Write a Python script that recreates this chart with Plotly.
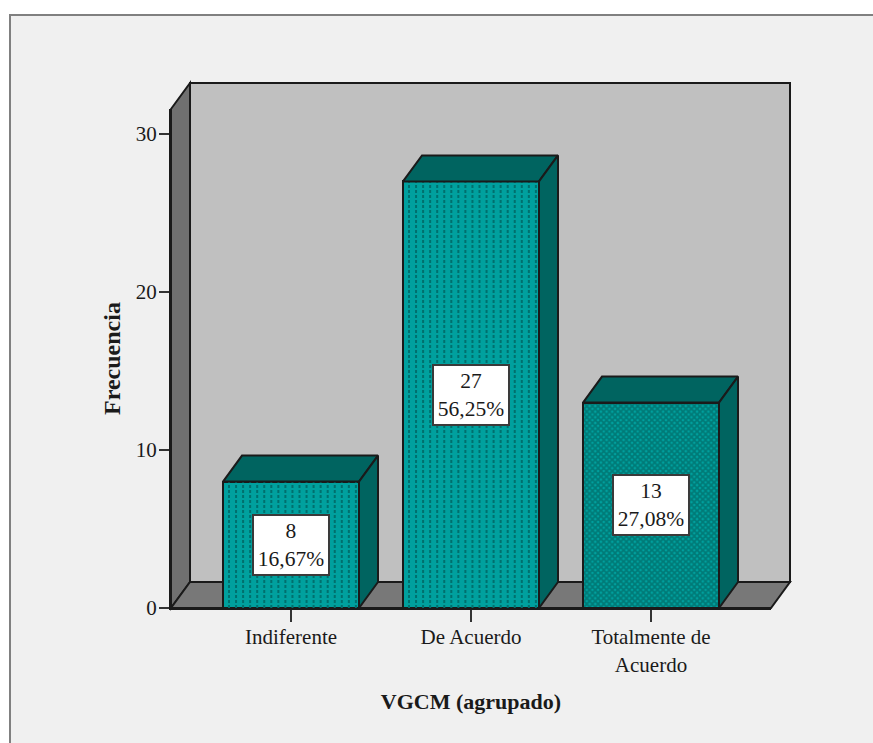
import numpy as np
import plotly.graph_objects as go

# Survey frequencies for VGCM (grouped)
categories = ["Indiferente", "De Acuerdo", "Totalmente de<br>Acuerdo"]
frequencies = [8, 27, 13]
percentages = ["16,67%", "56,25%", "27,08%"]
y_ticks = [0, 10, 20, 30]

# Canvas and plot frame, in pixels
W, H = 873, 743
LEFT, RIGHT, TOP, BOTTOM = 171, 771, 109, 608
PX_PER_UNIT_Y = 15.8
PX_PER_CAT = 180.0
FIRST_CAT_PX = 291
DEPTH_X_PX, DEPTH_Y_PX = 19, 26
BAR_WIDTH = 136 / PX_PER_CAT

x_range = [(LEFT - FIRST_CAT_PX) / PX_PER_CAT, (RIGHT - FIRST_CAT_PX) / PX_PER_CAT]
y_range = [0, (BOTTOM - TOP) / PX_PER_UNIT_Y]
dx = DEPTH_X_PX / PX_PER_CAT
dy = DEPTH_Y_PX / PX_PER_UNIT_Y

FONT = "Liberation Serif"
TEXT = "#1a1a1a"
EDGE = "#1a1a1a"
FACE = "#00a09e"
DARK = "#006460"
WALL = "#c0c0c0"
SIDE = "#707070"
FLOOR = "#787878"


def dom_x(v):
    return (v - x_range[0]) / (x_range[1] - x_range[0])


def dom_y(v):
    return (v - y_range[0]) / (y_range[1] - y_range[0])


def polygon(points, fill):
    # Domain-referenced path, so the depth of the box may leave the plot frame
    path = "M " + " L ".join(f"{dom_x(a):.5f},{dom_y(b):.5f}" for a, b in points) + " Z"
    return dict(type="path", path=path, xref="x domain", yref="y domain", layer="below",
                fillcolor=fill, line=dict(color=EDGE, width=2))


x0, x1 = x_range
y1 = y_range[1]

shapes = [
    # Light panel with its grey top and left rules
    dict(type="rect", xref="paper", yref="paper", x0=10 / W, x1=1.01, y0=-0.01, y1=1 - 15 / H,
         layer="below", fillcolor="#f0f0f0", line=dict(color="#808080", width=2)),
    # Back wall, side wall and floor of the 3D box
    polygon([(x0 + dx, dy), (x1 + dx, dy), (x1 + dx, y1 + dy), (x0 + dx, y1 + dy)], WALL),
    polygon([(x0, 0), (x0 + dx, dy), (x0 + dx, y1 + dy), (x0, y1)], SIDE),
    polygon([(x0, 0), (x1, 0), (x1 + dx, dy), (x0 + dx, dy)], FLOOR),
]

positions = list(range(len(categories)))
fig = go.Figure()

fig.add_trace(go.Bar(
    x=positions, y=frequencies, width=BAR_WIDTH,
    marker=dict(
        color=FACE,
        line=dict(color=EDGE, width=2),
        pattern=dict(shape=["", "", "x"], size=4, solidity=0.7,
                     fgcolor="#005450", bgcolor=FACE, fillmode="overlay"),
    ),
    hoverinfo="skip", showlegend=False,
))

# Dotted vertical rows on the first two bars
for pos, val in list(zip(positions, frequencies))[:2]:
    left = pos - BAR_WIDTH / 2
    xs, ys = [], []
    for off in np.arange(6, 136, 7.05):
        xs += [left + off / PX_PER_CAT] * 2 + [None]
        ys += [0, val, None]
    fig.add_trace(go.Scatter(x=xs, y=ys, mode="lines", hoverinfo="skip", showlegend=False,
                             line=dict(color="#00706e", width=2, dash="3px,2px")))

# Top and side faces of each bar
for pos, val in zip(positions, frequencies):
    l, r = pos - BAR_WIDTH / 2, pos + BAR_WIDTH / 2
    faces = [
        ([l, r, r + dx, l + dx, l], [val, val, val + dy, val + dy, val]),
        ([r, r + dx, r + dx, r, r], [0, dy, val + dy, val, 0]),
    ]
    for fx, fy in faces:
        fig.add_trace(go.Scatter(x=fx, y=fy, mode="lines", fill="toself", fillcolor=DARK,
                                 line=dict(color=EDGE, width=2), hoverinfo="skip",
                                 showlegend=False))

annotations = [
    dict(x=pos, y=val / 2, xref="x", yref="y", text=f"{val}<br>{pct}", showarrow=False,
         font=dict(family=FONT, size=21.5, color=TEXT), bgcolor="white",
         bordercolor="#3a3a3a", borderwidth=2, borderpad=0, width=74, height=58,
         align="center", valign="middle")
    for pos, val, pct in zip(positions, frequencies, percentages)
]

axis_line = dict(showline=True, linecolor=EDGE, linewidth=2, ticks="outside", tickcolor="#333333",
                 tickwidth=2, showgrid=False, zeroline=False, automargin=False,
                 tickfont=dict(family=FONT, size=21, color=TEXT))

fig.update_layout(
    width=W, height=H, autosize=False,
    margin=dict(l=0, r=0, t=0, b=0),
    paper_bgcolor="white", plot_bgcolor="rgba(0,0,0,0)",
    shapes=shapes, annotations=annotations, showlegend=False, bargap=0,
    xaxis=dict(domain=[LEFT / W, RIGHT / W], range=x_range, tickmode="array",
               tickvals=positions, ticktext=categories, ticklen=12, tickangle=0,
               ticklabelstandoff=-3,
               title=dict(text="<b>VGCM (agrupado)</b>", standoff=18,
                          font=dict(family=FONT, size=22, color=TEXT)),
               **axis_line),
    yaxis=dict(domain=[(H - BOTTOM) / H, (H - TOP) / H], range=y_range, tickmode="array",
               tickvals=y_ticks, ticklen=10, ticklabelstandoff=-2,
               title=dict(text="<b>Frecuencia</b>", standoff=8,
                          font=dict(family=FONT, size=24, color=TEXT)),
               **axis_line),
)

fig.write_html("out.html", config=dict(displayModeBar=False))
